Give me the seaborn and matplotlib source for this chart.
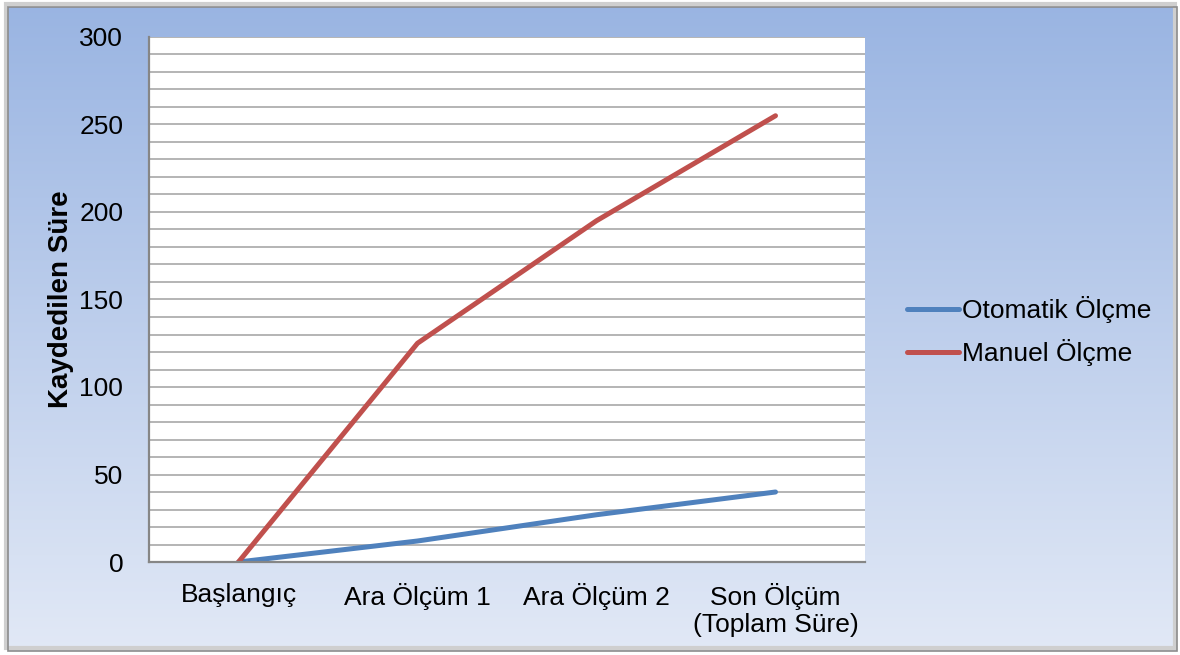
import numpy as np
import pandas as pd
import seaborn as sns
import matplotlib.pyplot as plt
from matplotlib.patches import Rectangle

# data
categories = ["Başlangıç", "Ara Ölçüm 1", "Ara Ölçüm 2", "Son Ölçüm\n(Toplam Süre)"]
otomatik = [0, 12, 27, 40]
manuel = [0, 125, 195, 255]
series_names = ["Otomatik Ölçme", "Manuel Ölçme"]
yticks = [0, 50, 100, 150, 200, 250, 300]

df = pd.DataFrame({
    "cat": categories * 2,
    "x": list(range(len(categories))) * 2,
    "val": otomatik + manuel,
    "seri": [series_names[0]] * 4 + [series_names[1]] * 4,
})

sns.set_style("white")
plt.rcParams["font.family"] = ["Liberation Sans", "DejaVu Sans"]
plt.rcParams["text.color"] = "black"
plt.rcParams["xtick.color"] = "black"
plt.rcParams["ytick.color"] = "black"
plt.rcParams["axes.labelcolor"] = "black"

fig = plt.figure(figsize=(11.8, 6.55), dpi=100)

# gradient background
bg = fig.add_axes([0, 0, 1, 1], zorder=-10)
grad = np.linspace(0, 1, 256).reshape(-1, 1)
top = np.array([0x99, 0xB4, 0xE2]) / 255
bot = np.array([0xE2, 0xE9, 0xF6]) / 255
img = top[None, None, :] * (1 - grad[:, :, None]) + bot[None, None, :] * grad[:, :, None]
bg.imshow(img, aspect="auto", extent=[0, 1, 0, 1], origin="upper")
bg.set_xlim(0, 1)
bg.set_ylim(0, 1)
bg.axis("off")
# white margins outside frame + frame border
W, H = 1180, 655
x0, y0, x1, y1 = 8 / W, 4 / H, 1177 / W, 648 / H
for r in [(0, 0, x0, 1), (x1, 0, 1 - x1, 1), (0, 0, 1, y0), (0, y1, 1, 1 - y1)]:
    bg.add_patch(Rectangle((r[0], r[1]), r[2], r[3], facecolor="white", edgecolor="none", zorder=2))
bg.add_patch(Rectangle((x0 - 0.002, y0 + 0.004), x1 - x0, y1 - y0, facecolor="none",
                       edgecolor="#CFCFCF", linewidth=3, zorder=2))
bg.add_patch(Rectangle((x0, y0), x1 - x0, y1 - y0, facecolor="none",
                       edgecolor="#8C8C8C", linewidth=1.2, zorder=3))

ax = fig.add_axes([149 / W, 93 / H, 716 / W, 525 / H])
ax.set_facecolor("white")
sns.lineplot(data=df, x="x", y="val", hue="seri", palette=["#4F81BD", "#C0504D"],
             linewidth=3.6, ax=ax, legend=True, solid_capstyle="round")

ax.set_xlim(-0.5, len(categories) - 0.5)
ax.set_ylim(0, 300)
ax.set_yticks(yticks)
ax.set_yticks(np.arange(0, 301, 10), minor=True)
ax.yaxis.grid(True, which="both", color="#B4B4B4", linewidth=1.4)
ax.set_axisbelow(True)
ax.set_xticks(range(len(categories)))
ax.set_xticklabels(categories, fontsize=19, linespacing=1.15)
ax.tick_params(axis="y", labelsize=19, length=0, pad=18.5, which="both")
ax.tick_params(axis="x", length=0, pad=15)
ax.set_xlabel("")
ax.set_ylabel("Kaydedilen Süre", fontsize=20, fontweight="bold", labelpad=4)
for s in ["left", "bottom"]:
    ax.spines[s].set_color("#868686")
    ax.spines[s].set_linewidth(1.6)
for s in ["top", "right"]:
    ax.spines[s].set_visible(False)

leg = ax.legend(loc="center left", bbox_to_anchor=(1.025, 0.44), frameon=False,
                fontsize=19, handlelength=2.0, handletextpad=0.1, labelspacing=0.6)
for line in leg.get_lines():
    line.set_linewidth(3.6)

fig.savefig("out.png", dpi=100)
